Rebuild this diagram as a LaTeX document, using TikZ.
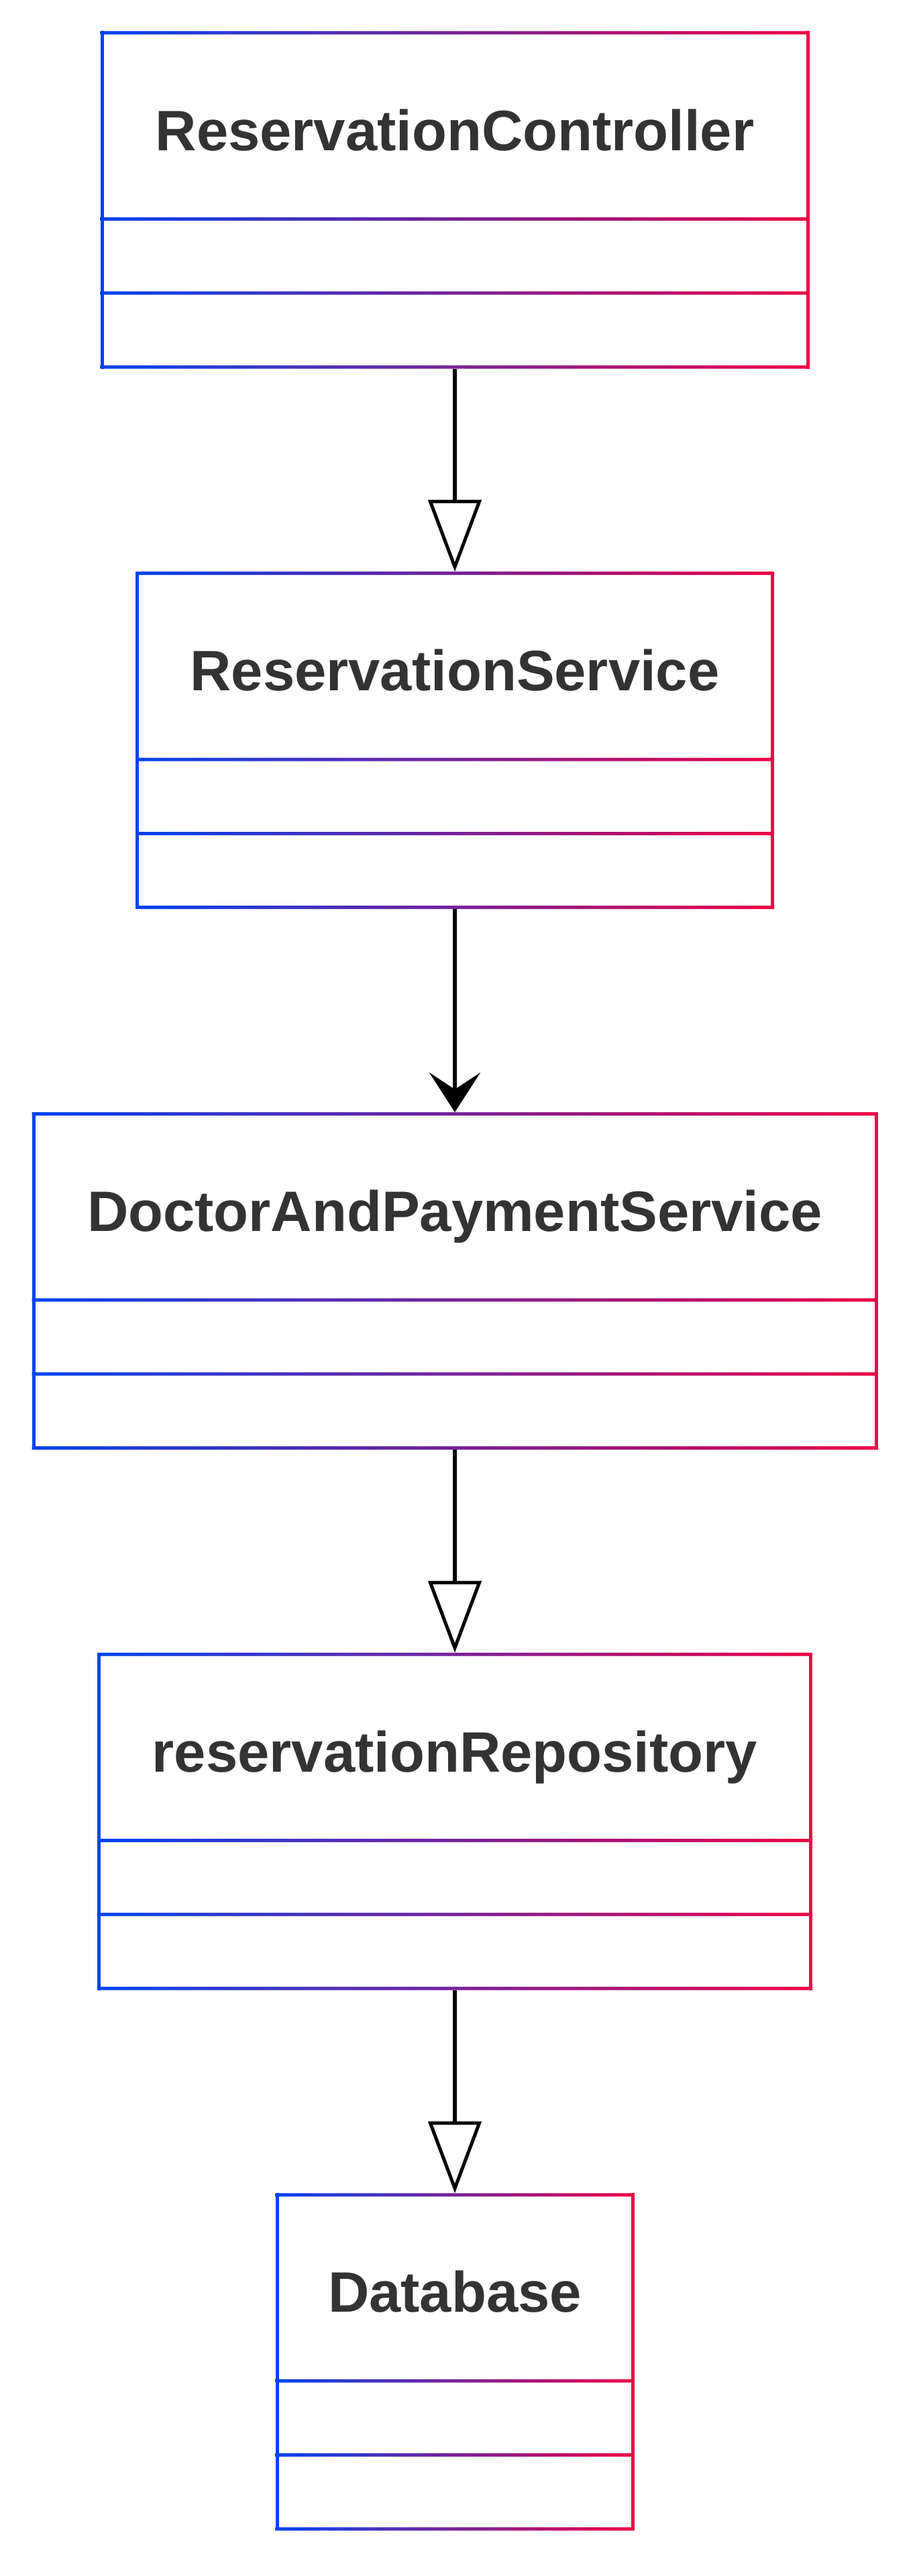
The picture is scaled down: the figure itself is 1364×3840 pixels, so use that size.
\documentclass[tikz,border=0pt]{standalone}
\usepackage{fontspec}
\setmainfont{Liberation Sans}
\usetikzlibrary{arrows.meta,calc}
\definecolor{umlblue}{RGB}{0,68,240}
\definecolor{umlred}{RGB}{238,0,68}
\definecolor{umltext}{RGB}{51,51,51}

\begin{document}
\begin{tikzpicture}[x=1pt,y=-1pt]
	\tikzstyle{classbox}=[rectangle,inner sep=0pt,outer sep=2.5pt,minimum height=498pt]
	\tikzstyle{classname}=[anchor=base,inner sep=0pt,text=umltext,font=\fontsize{85}{100}\selectfont\bfseries]
	\tikzstyle{gradline}=[left color=umlblue,right color=umlred]
	\tikzstyle{link}=[line width=6pt,black]
	
	\useasboundingbox (0,0) rectangle (1364,3840);
	
	%% class boxes
	\node [classbox,minimum width=1052pt] (controller) at (678,298.0) {};
	\node [classbox,minimum width=947pt]  (service)    at (678,1103.7) {};
	\node [classbox,minimum width=1256pt] (doctorpay)  at (678,1909.4) {};
	\node [classbox,minimum width=1061pt] (repository) at (678,2715.1) {};
	\node [classbox,minimum width=530pt]  (database)   at (678,3520.8) {};
	
	%% ReservationController
	\shade [gradline] (controller.north west) rectangle ($(controller.north east)+(0,5)$)
		($(controller.north west)+(0,277.4)$) rectangle ($(controller.north east)+(0,282.4)$)
		($(controller.north west)+(0,387.8)$) rectangle ($(controller.north east)+(0,392.8)$)
		($(controller.south west)+(0,-5)$) rectangle (controller.south east);
	\fill [umlblue] (controller.north west) rectangle ($(controller.south west)+(5,0)$);
	\fill [umlred] ($(controller.north east)+(-5,0)$) rectangle (controller.south east);
	\node [classname] (controller-name) at ($(controller.north)+(0,177.6)$) {ReservationController};
	
	%% ReservationService
	\shade [gradline] (service.north west) rectangle ($(service.north east)+(0,5)$)
		($(service.north west)+(0,277.4)$) rectangle ($(service.north east)+(0,282.4)$)
		($(service.north west)+(0,387.8)$) rectangle ($(service.north east)+(0,392.8)$)
		($(service.south west)+(0,-5)$) rectangle (service.south east);
	\fill [umlblue] (service.north west) rectangle ($(service.south west)+(5,0)$);
	\fill [umlred] ($(service.north east)+(-5,0)$) rectangle (service.south east);
	\node [classname] (service-name) at ($(service.north)+(0,177.6)$) {ReservationService};
	
	%% DoctorAndPaymentService
	\shade [gradline] (doctorpay.north west) rectangle ($(doctorpay.north east)+(0,5)$)
		($(doctorpay.north west)+(0,277.4)$) rectangle ($(doctorpay.north east)+(0,282.4)$)
		($(doctorpay.north west)+(0,387.8)$) rectangle ($(doctorpay.north east)+(0,392.8)$)
		($(doctorpay.south west)+(0,-5)$) rectangle (doctorpay.south east);
	\fill [umlblue] (doctorpay.north west) rectangle ($(doctorpay.south west)+(5,0)$);
	\fill [umlred] ($(doctorpay.north east)+(-5,0)$) rectangle (doctorpay.south east);
	\node [classname] (doctorpay-name) at ($(doctorpay.north)+(0,177.6)$) {DoctorAndPaymentService};
	
	%% reservationRepository
	\shade [gradline] (repository.north west) rectangle ($(repository.north east)+(0,5)$)
		($(repository.north west)+(0,277.4)$) rectangle ($(repository.north east)+(0,282.4)$)
		($(repository.north west)+(0,387.8)$) rectangle ($(repository.north east)+(0,392.8)$)
		($(repository.south west)+(0,-5)$) rectangle (repository.south east);
	\fill [umlblue] (repository.north west) rectangle ($(repository.south west)+(5,0)$);
	\fill [umlred] ($(repository.north east)+(-5,0)$) rectangle (repository.south east);
	\node [classname] (repository-name) at ($(repository.north)+(0,177.6)$) {reservationRepository};
	
	%% Database
	\shade [gradline] (database.north west) rectangle ($(database.north east)+(0,5)$)
		($(database.north west)+(0,277.4)$) rectangle ($(database.north east)+(0,282.4)$)
		($(database.north west)+(0,387.8)$) rectangle ($(database.north east)+(0,392.8)$)
		($(database.south west)+(0,-5)$) rectangle (database.south east);
	\fill [umlblue] (database.north west) rectangle ($(database.south west)+(5,0)$);
	\fill [umlred] ($(database.north east)+(-5,0)$) rectangle (database.south east);
	\node [classname] (database-name) at ($(database.north)+(0,177.6)$) {Database};
	
	%% relations
	\draw [link,-{Triangle[open,length=107pt,width=79pt,line width=5pt]}] (controller) -- (service);
	\draw [link,-{Stealth[length=59pt,width=76pt,inset=25pt]}] (service) -- (doctorpay);
	\draw [link,-{Triangle[open,length=107pt,width=79pt,line width=5pt]}] (doctorpay) -- (repository);
	\draw [link,-{Triangle[open,length=107pt,width=79pt,line width=5pt]}] (repository) -- (database);

\end{tikzpicture}
\end{document}
